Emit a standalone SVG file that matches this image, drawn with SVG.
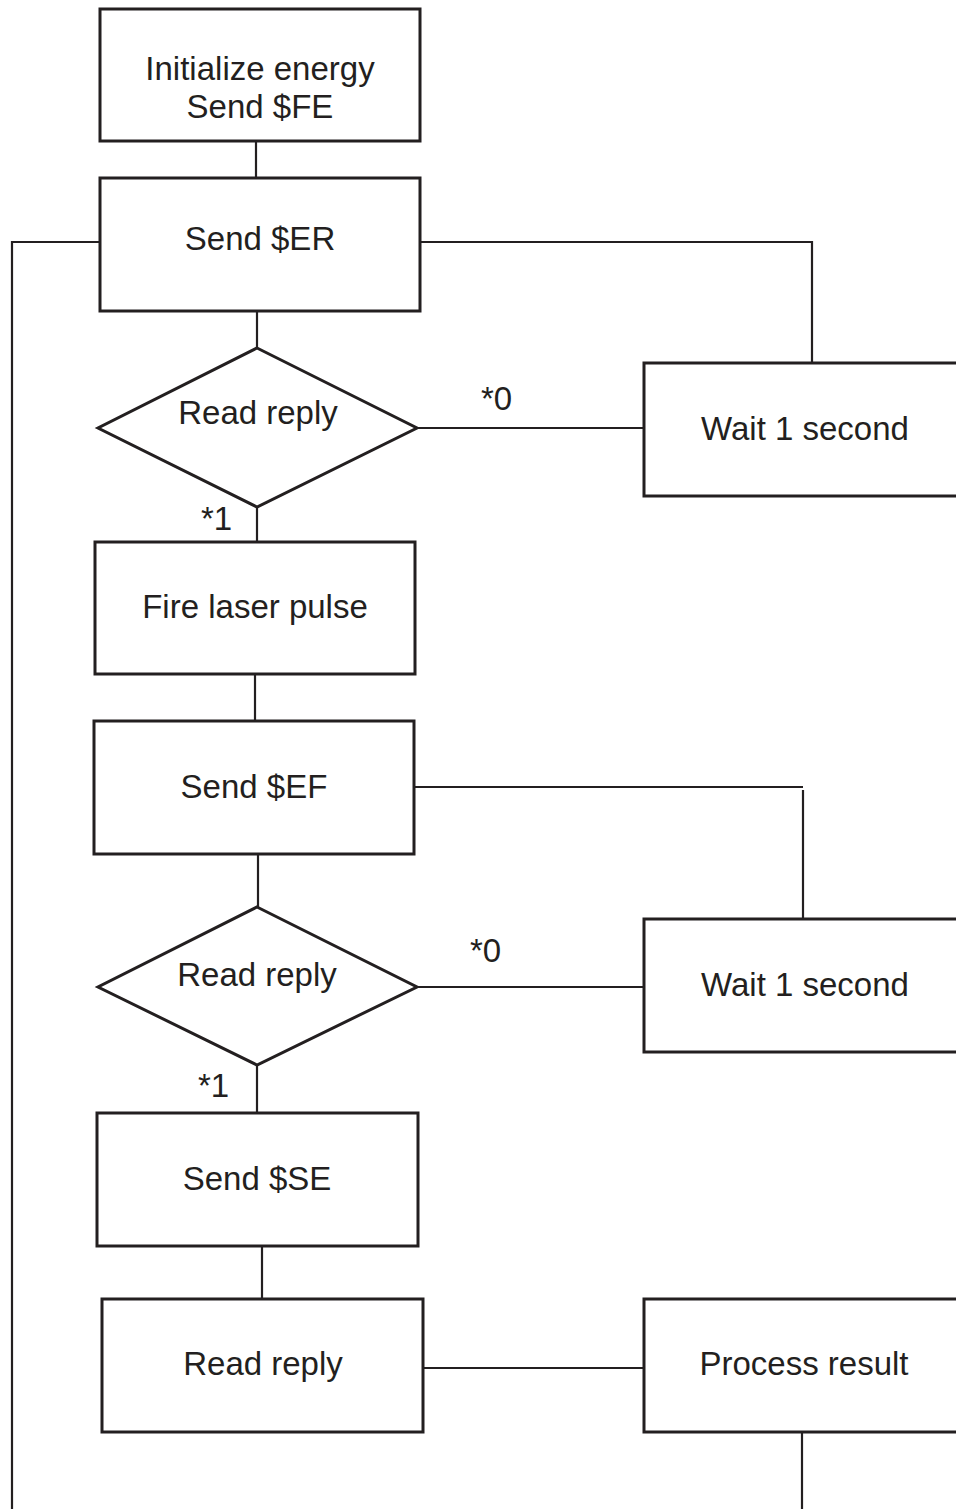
<svg xmlns="http://www.w3.org/2000/svg" width="956" height="1509" viewBox="0 0 956 1509">
<style>
.n{fill:#fff;stroke:#231f20;stroke-width:3}
.c{fill:none;stroke:#231f20;stroke-width:2.2}
text{font-family:"Liberation Sans",Arial,sans-serif;font-size:33px;fill:#231f20;text-anchor:middle}
.l{text-anchor:start}
</style>
<rect width="956" height="1509" fill="#fff"/>
<g id="connectors">
<line class="c" x1="256" y1="142" x2="256" y2="178"/>
<polyline class="c" points="100,242 12,242 12,1509"/>
<polyline class="c" points="420,242 812,242 812,362"/>
<line class="c" x1="257" y1="311" x2="257" y2="348"/>
<line class="c" x1="417" y1="428" x2="644" y2="428"/>
<line class="c" x1="257" y1="507" x2="257" y2="542"/>
<line class="c" x1="255" y1="674" x2="255" y2="721"/>
<line class="c" x1="413" y1="787" x2="803" y2="787"/>
<line class="c" x1="803" y1="790" x2="803" y2="918"/>
<line class="c" x1="258" y1="854" x2="258" y2="907"/>
<line class="c" x1="417" y1="987" x2="644" y2="987"/>
<line class="c" x1="257" y1="1065" x2="257" y2="1113"/>
<line class="c" x1="262" y1="1246" x2="262" y2="1299"/>
<line class="c" x1="424" y1="1368" x2="644" y2="1368"/>
<line class="c" x1="802" y1="1432" x2="802" y2="1509"/>
<text class="l" x="481" y="410">*0</text>
<text class="l" x="201" y="530">*1</text>
<text class="l" x="470" y="962">*0</text>
<text class="l" x="198" y="1097">*1</text>
</g>
<g id="init">
<rect class="n" x="100" y="9" width="320" height="132"/>
<text x="260" y="80">Initialize energy</text>
<text x="260" y="118">Send $FE</text>
</g>
<g id="sendER">
<rect class="n" x="100" y="178" width="320" height="133"/>
<text x="260" y="250">Send $ER</text>
</g>
<g id="read1">
<polygon class="n" points="257,348 417,428 257,507 98,428"/>
<text x="258" y="424">Read reply</text>
</g>
<g id="wait1">
<rect class="n" x="644" y="363" width="330" height="133"/>
<text x="805" y="440">Wait 1 second</text>
</g>
<g id="fire">
<rect class="n" x="95" y="542" width="320" height="132"/>
<text x="255" y="618">Fire laser pulse</text>
</g>
<g id="sendEF">
<rect class="n" x="94" y="721" width="320" height="133"/>
<text x="254" y="798">Send $EF</text>
</g>
<g id="read2">
<polygon class="n" points="257,907 417,987 257,1065 98,987"/>
<text x="257" y="986">Read reply</text>
</g>
<g id="wait2">
<rect class="n" x="644" y="919" width="330" height="133"/>
<text x="805" y="996">Wait 1 second</text>
</g>
<g id="sendSE">
<rect class="n" x="97" y="1113" width="321" height="133"/>
<text x="257" y="1190">Send $SE</text>
</g>
<g id="read3">
<rect class="n" x="102" y="1299" width="321" height="133"/>
<text x="263" y="1375">Read reply</text>
</g>
<g id="process">
<rect class="n" x="644" y="1299" width="330" height="133"/>
<text x="804" y="1375">Process result</text>
</g>
</svg>
